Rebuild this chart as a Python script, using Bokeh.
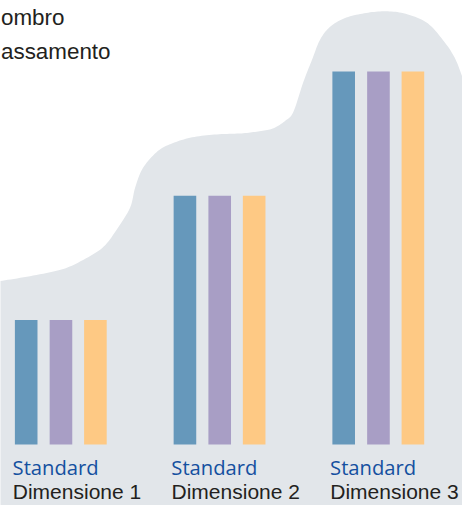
import numpy as np
from bokeh.plotting import figure
from bokeh.models import Range1d, ColumnDataSource
from bokeh.transform import dodge
from bokeh.core.properties import value
from bokeh.embed import file_html
from bokeh.resources import INLINE

# ---- data ----
dimensions = ["Dimensione 1", "Dimensione 2", "Dimensione 3"]
variant_labels = ["Standard", "Standard", "Standard"]
series_names = ["Serie 1", "Serie 2", "Serie 3"]
series_1 = [1, 2, 3]
series_2 = [1, 2, 3]
series_3 = [1, 2, 3]
legend_lines = ["ombro", "assamento"]

# ---- styles ----
bar_colors = ["#6698bb", "#a89ec5", "#fec984"]
bg_blob = "#e2e6ea"
label_blue = "#1450a0"
text_dark = "#231f20"

W, H = 462, 505

p = figure(width=W, height=H, output_backend="svg", toolbar_location=None,
           x_range=Range1d(-0.3808, 2.5294), y_range=Range1d(-0.4908, 3.570),
           min_border=0)
p.axis.visible = False
p.grid.visible = False
p.outline_line_color = None
p.background_fill_color = "white"
p.border_fill_color = "white"

# decorative background shape, drawn in a reference-pixel frame
p.extra_x_ranges = {"px": Range1d(0, 470)}
p.extra_y_ranges = {"px": Range1d(513, 0)}

outline = [(-10, 287), (0, 285), (30, 280), (63, 273), (85, 263), (105, 250),
           (120, 230), (132, 210), (137, 190), (145, 170), (160, 153), (175, 145),
           (195, 139), (220, 136), (245, 135), (262, 133), (277, 130), (290, 122),
           (298, 113), (308, 83), (317, 60), (325, 40), (335, 27), (350, 18),
           (370, 13), (390, 11), (410, 13), (433, 22), (450, 40), (462, 58),
           (470, 78), (478, 100)]


def catmull(pts, n=10):
    pts = np.array(pts, float)
    P = np.vstack([pts[0], pts, pts[-1]])
    out = []
    for i in range(1, len(P) - 2):
        p0, p1, p2, p3 = P[i - 1], P[i], P[i + 1], P[i + 2]
        for t in np.linspace(0, 1, n, endpoint=False):
            t2, t3 = t * t, t * t * t
            out.append(0.5 * ((2 * p1) + (-p0 + p2) * t
                              + (2 * p0 - 5 * p1 + 4 * p2 - p3) * t2
                              + (-p0 + 3 * p1 - 3 * p2 + p3) * t3))
    out.append(pts[-1])
    return np.array(out)


curve = catmull(outline)
bx = list(curve[:, 0]) + [478, -10]
by = list(curve[:, 1]) + [530, 530]
p.patch(bx, by, fill_color=bg_blob, line_color=None,
        x_range_name="px", y_range_name="px")

# ---- bars ----
src = ColumnDataSource(dict(idx=list(range(len(dimensions))), dim=dimensions,
                            variant=variant_labels,
                            s1=series_1, s2=series_2, s3=series_3))
offsets = [-0.219, 0.0, 0.217]
for col, off, color, name in zip(["s1", "s2", "s3"], offsets, bar_colors, series_names):
    p.vbar(x=dodge("idx", off, range=p.x_range), top=col, bottom=0, width=0.1424,
           source=src, fill_color=color, line_color=None)

# ---- category labels ----
p.text(x=dodge("idx", -0.219, range=p.x_range), y=0, text="variant", source=src,
       x_offset=-13.6, y_offset=23, text_align="left", text_baseline="alphabetic",
       text_font=value("Open Sans"), text_font_size="20.2px", text_color=label_blue)
p.text(x=dodge("idx", -0.219, range=p.x_range), y=0, text="dim", source=src,
       x_offset=-13.4, y_offset=47.5, text_align="left", text_baseline="alphabetic",
       text_font=value("Liberation Sans"), text_font_size="21px", text_color=text_dark)

# ---- legend text at top-left ----
p.text(x=[0.5, 0.5], y=[17.5, 52], text=legend_lines,
       x_range_name="px", y_range_name="px",
       text_align="left", text_baseline="alphabetic",
       text_font=value("Liberation Sans"), text_font_size="22.4px", text_color=text_dark)

open("out.html", "w").write(file_html(p, INLINE))
